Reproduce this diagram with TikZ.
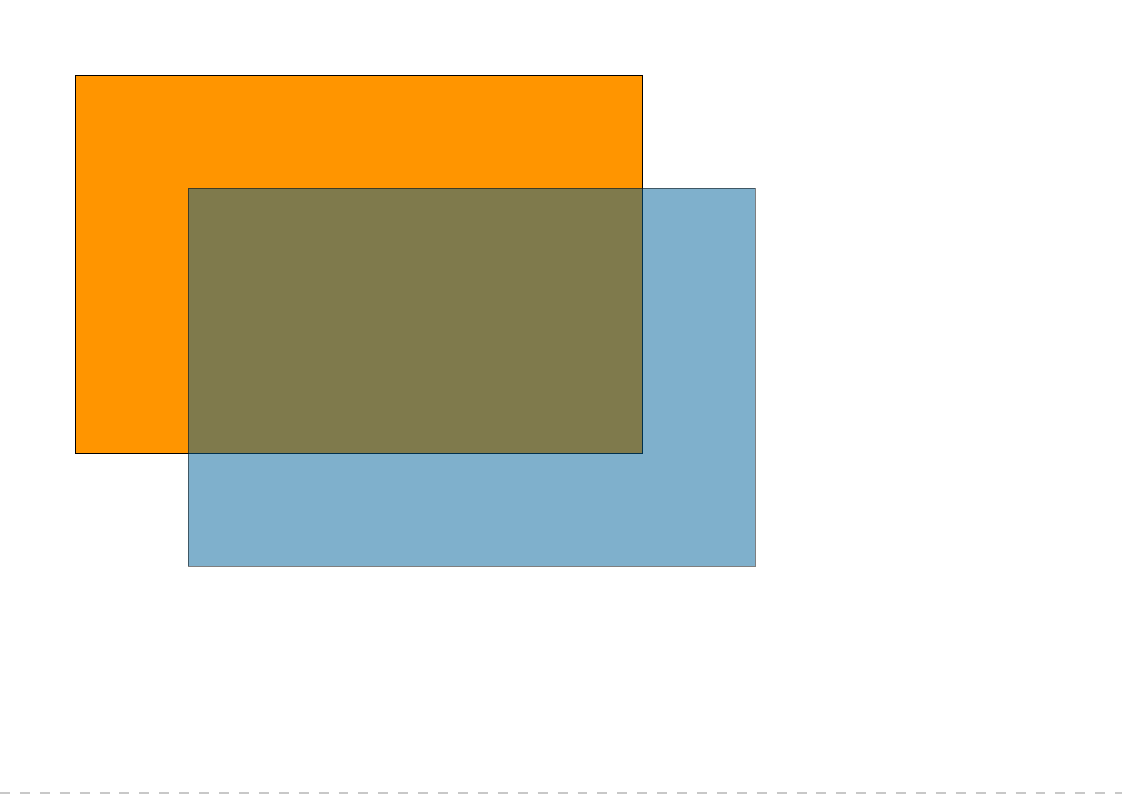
\documentclass[tikz,border=0pt]{standalone}
\usetikzlibrary{positioning}
\definecolor{boxorange}{HTML}{FF9500}
\definecolor{boxblue}{HTML}{006199}
\definecolor{rulegray}{HTML}{C8C8C8}

\begin{document}
\begin{tikzpicture}[
    x=0.02647cm, y=-0.02647cm,
    front/.style={draw=black, fill=boxorange, line width=0.6pt},
    back/.style={draw=black, fill=boxblue, opacity=0.5, line width=0.6pt},
    edge/.style={draw=rulegray, line width=0.9pt, dash pattern=on 7.5pt off 7.5pt},
]
    \useasboundingbox (0,0) rectangle (1122,794);

    % --- Rectangles ---
    \draw[front] (75,75) rectangle (642,453);
    \draw[back] (188,188) rectangle (755,566);

    % --- Page edge ---
    \draw[edge] (0,793) -- (1122,793);

\end{tikzpicture}
\end{document}
